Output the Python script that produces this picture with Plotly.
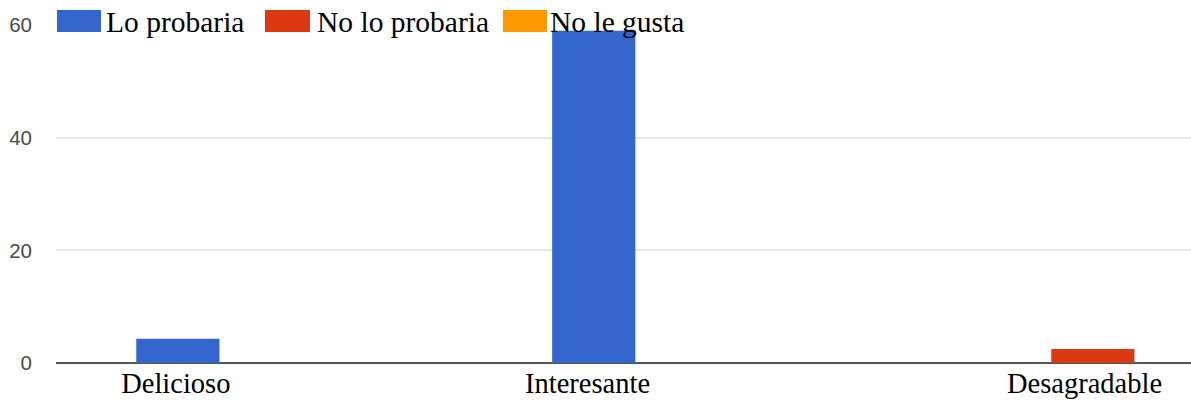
import plotly.graph_objects as go

categories = ["Delicioso", "Interesante", "Desagradable"]
series_names = ["Lo probaria", "No lo probaria", "No le gusta"]
lo_probaria = [4.3, 59, 0]
no_lo_probaria = [0, 0, 2.5]
no_le_gusta = [0, 0, 0]
y_ticks = [0, 20, 40, 60]

colors = ["#3366cc", "#dc3912", "#ff9900"]
values = [lo_probaria, no_lo_probaria, no_le_gusta]

W, H = 1191, 400
ML, MR, MT, MB = 56, 0, 25, 37
PW, PH = W - ML - MR, H - MT - MB

def px(x):
    return (x - ML) / PW

def py(y):
    return (H - MB - y) / PH

xpos = list(range(len(categories)))

fig = go.Figure()
for name, vals, col in zip(series_names, values, colors):
    fig.add_trace(go.Bar(x=xpos, y=vals, name=name, marker=dict(color=col, line=dict(width=0)),
                         showlegend=False))

# custom legend with large swatches
leg_sw = [(57, 101), (265, 310), (503, 547)]
leg_tx = [104, 315, 548]
shapes = []
annotations = []
for (x0, x1), tx, name, col in zip(leg_sw, leg_tx, series_names, colors):
    shapes.append(dict(type="rect", xref="paper", yref="paper",
                       x0=px(x0), x1=px(x1), y0=py(32), y1=py(10),
                       fillcolor=col, line=dict(width=0), layer="above"))
    annotations.append(dict(text=name, xref="paper", yref="paper", x=px(tx), y=py(22),
                            xanchor="left", yanchor="middle", showarrow=False,
                            font=dict(family="Liberation Serif", size=29.5, color="#000")))

fig.update_layout(
    width=W, height=H,
    margin=dict(l=ML, r=MR, t=MT, b=MB),
    plot_bgcolor="white", paper_bgcolor="white",
    barmode="group", bargap=0.4, bargroupgap=0,
    shapes=shapes, annotations=annotations,
    xaxis=dict(range=[-0.493, 2.236], tickmode="array",
               tickvals=[-0.205, 0.785, 1.98], ticktext=categories,
               showgrid=False, zeroline=False, showline=False, ticks="",
               tickfont=dict(family="Liberation Serif", size=28.5, color="#000")),
    yaxis=dict(range=[0, 60], tickmode="array", tickvals=y_ticks,
               showgrid=True, gridcolor="#e3e3e3", gridwidth=2,
               zeroline=True, zerolinecolor="#555", zerolinewidth=2,
               ticks="", ticklabelstandoff=23,
               tickfont=dict(family="Liberation Sans", size=20.5, color="#4a4a4a")),
)

fig.write_html("out.html")
